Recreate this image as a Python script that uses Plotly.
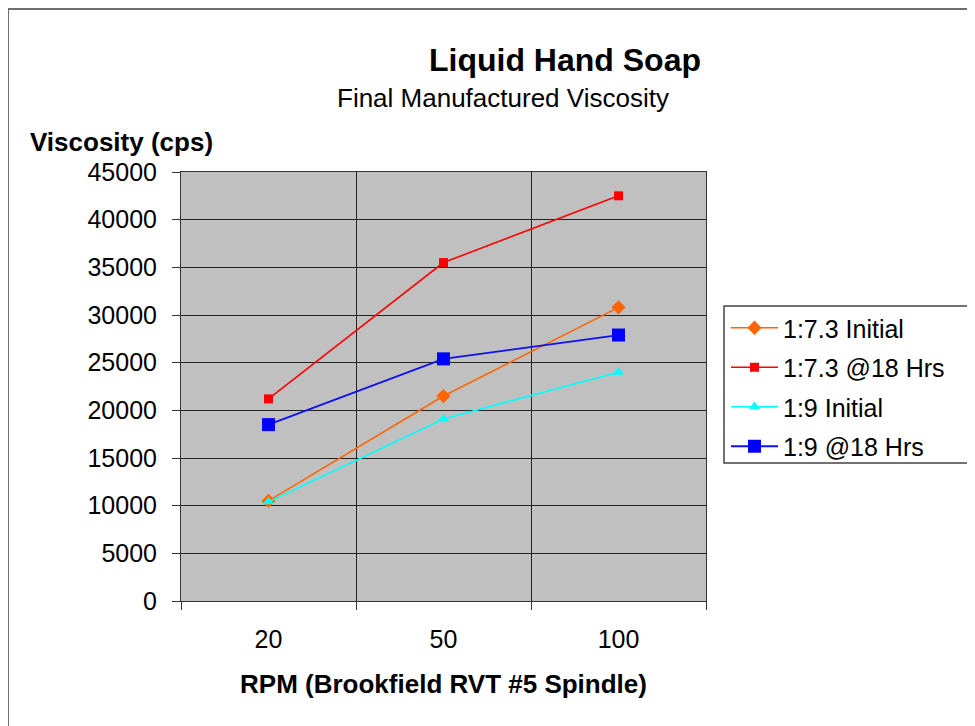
import plotly.graph_objects as go

rpm = ["20", "50", "100"]
s_73_init = [10500, 21500, 30800]
s_73_18 = [21200, 35500, 42500]
s_9_init = [10400, 19100, 24000]
s_9_18 = [18500, 25400, 27900]

FONT = "Liberation Sans, Arial, sans-serif"

# page is offset by the 8px default body margin
OFF = 8
W, H = 967, 718
l, t = 181 - OFF, 172 - OFF
r = W - (706 - OFF)
b = H - (601 - OFF)
pw, ph = W - l - r, H - t - b


def px2paper(px, py):
    return (px - OFF - l) / pw, (H - b - (py - OFF)) / ph


fig = go.Figure()
fig.add_trace(go.Scatter(x=rpm, y=s_73_init, name="1:7.3 Initial", mode="lines+markers",
                         legendgroup="a",
                         line=dict(color="#FF6600", width=1.6),
                         marker=dict(symbol="diamond", size=11, color="#FF6600")))
fig.add_trace(go.Scatter(x=rpm, y=s_73_18, name="1:7.3 @18 Hrs", mode="lines+markers",
                         legendgroup="b",
                         line=dict(color="#FF0000", width=1.6),
                         marker=dict(symbol="square", size=9, color="#FF0000")))
fig.add_trace(go.Scatter(x=rpm, y=s_9_init, name="1:9 Initial", mode="lines+markers",
                         legendgroup="c",
                         line=dict(color="#00FFFF", width=1.6),
                         marker=dict(symbol="triangle-up", size=10, color="#00FFFF")))
fig.add_trace(go.Scatter(x=rpm, y=s_9_18, name="1:9 @18 Hrs", mode="lines+markers",
                         legendgroup="d",
                         line=dict(color="#1010EE", width=1.8),
                         marker=dict(symbol="square", size=13, color="#0000FF")))

lx, ly = px2paper(726, 305)
ann = []
for text, x, y, xa, size in [
    ("<b>Liquid Hand Soap</b>", 565, 60, "center", 32),
    ("Final Manufactured Viscosity", 503, 98, "center", 26),
    ("<b>Viscosity (cps)</b>", 28, 142, "left", 26),
]:
    ax, ay = px2paper(x, y)
    ann.append(dict(text=text, x=ax, y=ay, xref="paper", yref="paper", showarrow=False,
                    xanchor=xa, yanchor="middle", font=dict(size=size)))

fig.update_layout(
    width=W, height=H,
    margin=dict(l=l, r=r, t=t, b=b),
    paper_bgcolor="white",
    plot_bgcolor="#C0C0C0",
    font=dict(family=FONT, size=25, color="black"),
    showlegend=True,
    legend=dict(x=lx, y=ly, xanchor="left", yanchor="top", traceorder="grouped",
                bgcolor="rgba(0,0,0,0)", borderwidth=0, itemwidth=47,
                font=dict(size=25, family=FONT), tracegroupgap=4),
    xaxis=dict(type="category", tickson="boundaries", showgrid=True,
               gridcolor="#222222", gridwidth=1, ticks="outside", ticklen=8,
               tickcolor="#333333", showline=True, linecolor="#333333",
               mirror=True, tickfont=dict(size=25), range=[-0.5, 2.5],
               ticklabelstandoff=16,
               title=dict(text="<b>RPM (Brookfield RVT #5 Spindle)</b>",
                          font=dict(size=26), standoff=22)),
    yaxis=dict(range=[0, 45000], dtick=5000, tickformat="d", showgrid=True,
               gridcolor="#222222", gridwidth=1, ticks="outside", ticklen=8,
               tickcolor="#333333", showline=True, linecolor="#333333", mirror=True,
               tickfont=dict(size=25), zeroline=False, ticklabelstandoff=10),
    annotations=ann,
)

# legend box
bx0, by1 = px2paper(724, 306)
bx1, by0 = px2paper(973, 463)
fig.add_shape(type="rect", xref="paper", yref="paper", x0=bx0, x1=bx1, y0=by0, y1=by1,
              line=dict(color="#444444", width=1.5), fillcolor="white", layer="below")

# outer chart border
x0, y1 = px2paper(8, 9)
x1, y0 = px2paper(1000, 760)
fig.add_shape(type="rect", xref="paper", yref="paper", x0=x0, x1=x1, y0=y0, y1=y1,
              line=dict(color="#6E6E6E", width=2), fillcolor="rgba(0,0,0,0)", layer="below")

fig.write_html("out.html")
